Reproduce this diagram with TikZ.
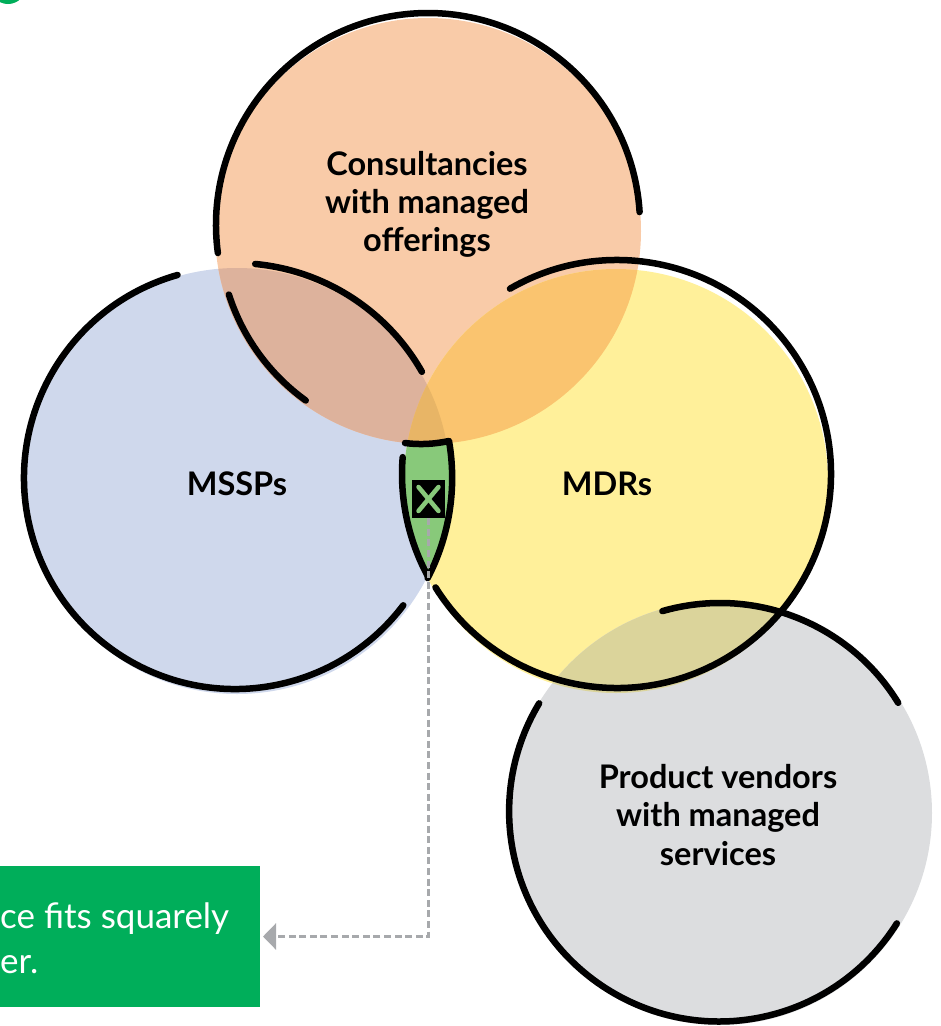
\documentclass[tikz,border=0pt]{standalone}
\usepackage{fontspec}
\setmainfont{Lato}
\usetikzlibrary{arrows.meta}
\definecolor{cBlue}{HTML}{CFD8EC}
\definecolor{cOrange}{HTML}{F9CBA8}
\definecolor{cYellow}{HTML}{FFF09A}
\definecolor{cGray}{HTML}{DCDDDF}
\definecolor{cBO}{HTML}{DDB29C}
\definecolor{cOY}{HTML}{FAC46F}
\definecolor{cBOY}{HTML}{E8B566}
\definecolor{cYG}{HTML}{DBD49B}
\definecolor{cLens}{HTML}{88C97A}
\definecolor{cBox}{HTML}{00AE5A}
\definecolor{cDash}{HTML}{A7A9AC}
\begin{document}
\begin{tikzpicture}[x=1pt,y=1pt,
  outl/.style={line width=6.5pt, line cap=round, line join=round, black},
  lab/.style={font=\fontsize{32.5}{38}\selectfont\bfseries, inner sep=0pt, anchor=base, text=black},
  boxtxt/.style={font=\fontsize{35}{45}\selectfont, inner sep=0pt, anchor=base west, text=white},
  dashc/.style={cDash, line width=2.6pt, dash pattern=on 7pt off 3.6pt, -{Triangle[length=13pt,width=26pt]}}]
\useasboundingbox (0,0) rectangle (941,-1026);
\clip (0,0) rectangle (941,-1026);
% fill centres
\coordinate (cB) at (237,-481);
\coordinate (cO) at (428,-231);
\coordinate (cY) at (616,-481);
\coordinate (cG) at (720,-813);
% fills
\fill[cBlue] (cB) circle[radius=213];
\fill[cOrange] (cO) circle[radius=213];
\fill[cYellow] (cY) circle[radius=212];
\fill[cGray] (cG) circle[radius=212];
\begin{scope}
  \clip (cB) circle[radius=213];
  \fill[cLens] (cY) circle[radius=212];
\end{scope}
\begin{scope}
  \clip (cO) circle[radius=213];
  \fill[cBO] (cB) circle[radius=213];
  \fill[cOY] (cY) circle[radius=212];
  \clip (cB) circle[radius=213];
  \fill[cBOY] (cY) circle[radius=212];
\end{scope}
\begin{scope}
  \clip (cY) circle[radius=212];
  \fill[cYG] (cG) circle[radius=212];
\end{scope}
% top-left green mark
\fill[cBox] (8,14) circle[radius=18];
% outline centres
\coordinate (oO) at (428,-225);
\coordinate (oB) at (235,-478);
\coordinate (oY) at (617,-474);
\coordinate (oG) at (720,-812);
% orange outlines
\draw[outl] (oO) ++(187.6:212) arc[start angle=187.6, end angle=3.5, radius=212];
\draw[outl] (cO) ++(197.7:209) arc[start angle=197.7, end angle=234.2, radius=209];
% blue outlines
\draw[outl] (oB) ++(105.8:211) arc[start angle=105.8, end angle=322.9, radius=211];
\draw[outl] (oB) ++(84.6:215) arc[start angle=84.6, end angle=29.6, radius=215];
% lens outline (top edge + blue right edge)
\draw[outl] (405,-443) .. controls (420,-445) and (435,-444) .. (449,-441)
  arc[start angle=9.8, end angle=-27.5, radius=217];
% lens left edge (yellow)
\draw[outl] (oY) ++(175.5:215) arc[start angle=175.5, end angle=208.5, radius=215];
% yellow outline
\draw[outl] (oY) ++(120:214) arc[start angle=120, end angle=-148, radius=214];
% gray outlines
\draw[outl] (oG) ++(106:209) arc[start angle=106, end angle=31.5, radius=209];
\draw[outl] (oG) ++(149:211) arc[start angle=149, end angle=327.8, radius=210];
% labels
\node[lab] (cons1) at (427,-175) {Consultancies};
\node[lab] (cons2) at (427,-213) {with managed};
\node[lab] (cons3) at (427,-251) {offerings};
\node[lab] (mssp) at (237,-495) {MSSPs};
\node[lab] (mdr) at (607,-495) {MDRs};
\node[lab] (prod1) at (718,-788) {Product vendors};
\node[lab] (prod2) at (718,-826.5) {with managed};
\node[lab] (prod3) at (718,-865) {services};
% box
\node[fill=cBox, minimum width=320pt, minimum height=141pt, inner sep=0pt, anchor=east] (box) at (260,-936.5) {};
\node[boxtxt] (bt1) at (0,-928) {ce fits squarely};
\node[boxtxt] (bt2) at (0,-973) {er.};
% X icon
\node[fill=black, minimum width=33pt, minimum height=38pt, inner sep=0pt] (xicon) at (428.5,-499) {};
\draw[cLens, line width=4.5pt, line cap=round] ([shift={(-10,12)}]xicon.center) -- ([shift={(10,-12)}]xicon.center);
\draw[cLens, line width=4.5pt, line cap=round] ([shift={(10,12)}]xicon.center) -- ([shift={(-10,-12)}]xicon.center);
% connector
\draw[dashc] (xicon.south) |- ([xshift=3pt]box.east);
\end{tikzpicture}
\end{document}
